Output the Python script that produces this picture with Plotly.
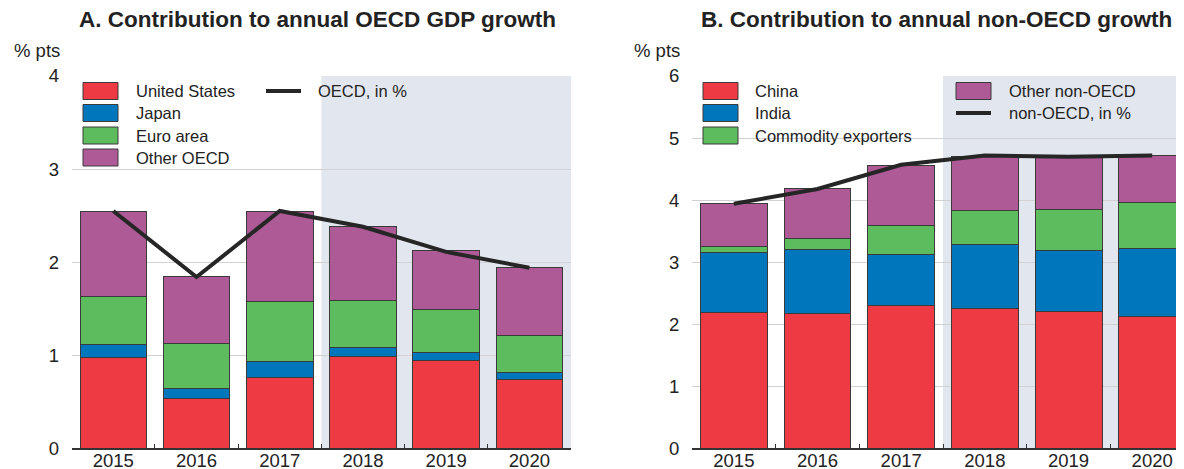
import plotly.graph_objects as go

W, H = 1184, 469
OFF = 8  # page body margin of the rendered html

years = ["2015", "2016", "2017", "2018", "2019", "2020"]

# Panel A: contributions to OECD GDP growth (% pts)
us = [0.98, 0.54, 0.76, 0.99, 0.94, 0.74]
japan = [0.13, 0.10, 0.17, 0.09, 0.09, 0.07]
euro_area = [0.52, 0.49, 0.65, 0.51, 0.46, 0.40]
other_oecd = [0.91, 0.72, 0.96, 0.79, 0.63, 0.73]
oecd_total = [2.55, 1.84, 2.55, 2.38, 2.11, 1.94]

# Panel B: contributions to non-OECD growth (% pts)
china = [2.19, 2.18, 2.30, 2.25, 2.20, 2.13]
india = [0.97, 1.02, 0.83, 1.03, 0.98, 1.09]
commodity_exporters = [0.10, 0.18, 0.46, 0.55, 0.67, 0.74]
other_non_oecd = [0.68, 0.80, 0.97, 0.88, 0.85, 0.76]
non_oecd_total = [3.94, 4.18, 4.57, 4.72, 4.70, 4.72]

titles = ["A. Contribution to annual OECD GDP growth",
          "B. Contribution to annual non-OECD growth"]
yaxis_label = "% pts"

RED, BLUE, GREEN, PURPLE = "#EE3A43", "#0076BD", "#5CBC5E", "#AD5A96"
LINE = "#262626"
EDGE = "#3a3a3a"
SHADE = "#E2E7EF"
FONT = "Liberation Sans, Arial, sans-serif"
TXT = "#222222"

seriesA = [("United States", us, RED), ("Japan", japan, BLUE),
           ("Euro area", euro_area, GREEN), ("Other OECD", other_oecd, PURPLE)]
seriesB = [("China", china, RED), ("India", india, BLUE),
           ("Commodity exporters", commodity_exporters, GREEN),
           ("Other non-OECD", other_non_oecd, PURPLE)]

fig = go.Figure()
for name, vals, col in seriesA:
    fig.add_trace(go.Bar(x=years, y=vals, name=name, marker_color=col,
                         marker_line=dict(color=EDGE, width=1), width=0.8,
                         xaxis="x", yaxis="y", showlegend=False))
fig.add_trace(go.Scatter(x=years, y=oecd_total, mode="lines", name="OECD, in %",
                         line=dict(color=LINE, width=4), xaxis="x", yaxis="y",
                         showlegend=False))
for name, vals, col in seriesB:
    fig.add_trace(go.Bar(x=years, y=vals, name=name, marker_color=col,
                         marker_line=dict(color=EDGE, width=1), width=0.8,
                         xaxis="x2", yaxis="y2", showlegend=False))
fig.add_trace(go.Scatter(x=years, y=non_oecd_total, mode="lines", name="non-OECD, in %",
                         line=dict(color=LINE, width=4), xaxis="x2", yaxis="y2",
                         showlegend=False))

def px(x):
    return (x - OFF) / W

def py(y):
    return 1 - (y - OFF) / H

ydom = [py(448.3), py(76)]

xcommon = dict(type="category", tickson="boundaries", ticks="inside", ticklen=5,
               tickcolor="#333", tickwidth=1, showline=True, linecolor="#333",
               linewidth=1.5, showgrid=False, automargin=False,
               ticklabelstandoff=-5,
               tickfont=dict(size=18.5, color=TXT, family=FONT))
ycommon = dict(showgrid=True, gridcolor="#d2d2d2", gridwidth=1, zeroline=False,
               showline=False, ticks="outside", ticklen=8, automargin=False,
               tickcolor="rgba(0,0,0,0)", dtick=1,
               tickfont=dict(size=18.5, color=TXT, family=FONT), domain=ydom)

fig.update_layout(
    width=W, height=H, margin=dict(l=0, r=0, t=0, b=0, pad=0),
    paper_bgcolor="white", plot_bgcolor="white", barmode="stack",
    font=dict(family=FONT, color=TXT),
    xaxis=dict(domain=[px(71.7), px(571)], range=[-0.5, 5.5], anchor="y", **xcommon),
    yaxis=dict(range=[0, 4], anchor="x", **ycommon),
    xaxis2=dict(domain=[px(692), px(1184)], range=[-0.5, 5.38], anchor="y2", **xcommon),
    yaxis2=dict(range=[0, 6], anchor="x2", **ycommon),
)

shapes = [
    dict(type="rect", xref="x", yref="y", x0=2.5, x1=5.5, y0=0, y1=4,
         fillcolor=SHADE, line=dict(width=0), layer="below"),
    dict(type="rect", xref="x2", yref="y2", x0=2.5, x1=5.6, y0=0, y1=6,
         fillcolor=SHADE, line=dict(width=0), layer="below"),
]
annotations = []

# Titles and axis labels
for t, cx in zip(titles, [317, 936]):
    annotations.append(dict(text="<b>" + t + "</b>", x=px(cx), y=py(19), xref="paper",
                            yref="paper", xanchor="center", yanchor="middle",
                            showarrow=False, font=dict(size=22.5, color=TXT, family=FONT)))
for lx in [12, 632]:
    annotations.append(dict(text=yaxis_label, x=px(lx), y=py(50), xref="paper",
                            yref="paper", xanchor="left", yanchor="middle",
                            showarrow=False, font=dict(size=18.5, color=TXT, family=FONT)))

# Custom legends
def box_entry(x0, yc, name, col, tx):
    shapes.append(dict(type="rect", xref="paper", yref="paper",
                       x0=px(x0), x1=px(x0 + 35), y0=py(yc + 8.5), y1=py(yc - 8.5),
                       fillcolor=col, line=dict(color=EDGE, width=1)))
    annotations.append(dict(text=name, x=px(tx), y=py(yc), xref="paper", yref="paper",
                            xanchor="left", yanchor="middle", showarrow=False,
                            font=dict(size=16.5, color=TXT, family=FONT)))

def line_entry(x0, yc, name, tx):
    shapes.append(dict(type="line", xref="paper", yref="paper",
                       x0=px(x0), x1=px(x0 + 35), y0=py(yc), y1=py(yc),
                       line=dict(color=LINE, width=4)))
    annotations.append(dict(text=name, x=px(tx), y=py(yc), xref="paper", yref="paper",
                            xanchor="left", yanchor="middle", showarrow=False,
                            font=dict(size=16.5, color=TXT, family=FONT)))

rows = [91, 113, 135.5, 157.5]
for (name, _, col), yc in zip(seriesA, rows):
    box_entry(83, yc, name, col, 134)
line_entry(266, rows[0], "OECD, in %", 316)

for (name, _, col), yc in zip(seriesB[:3], rows[:3]):
    box_entry(703, yc, name, col, 753)
box_entry(956, rows[0], seriesB[3][0], seriesB[3][2], 1007)
line_entry(956, rows[1], "non-OECD, in %", 1007)

fig.update_layout(shapes=shapes, annotations=annotations)
fig.write_html("out.html")
